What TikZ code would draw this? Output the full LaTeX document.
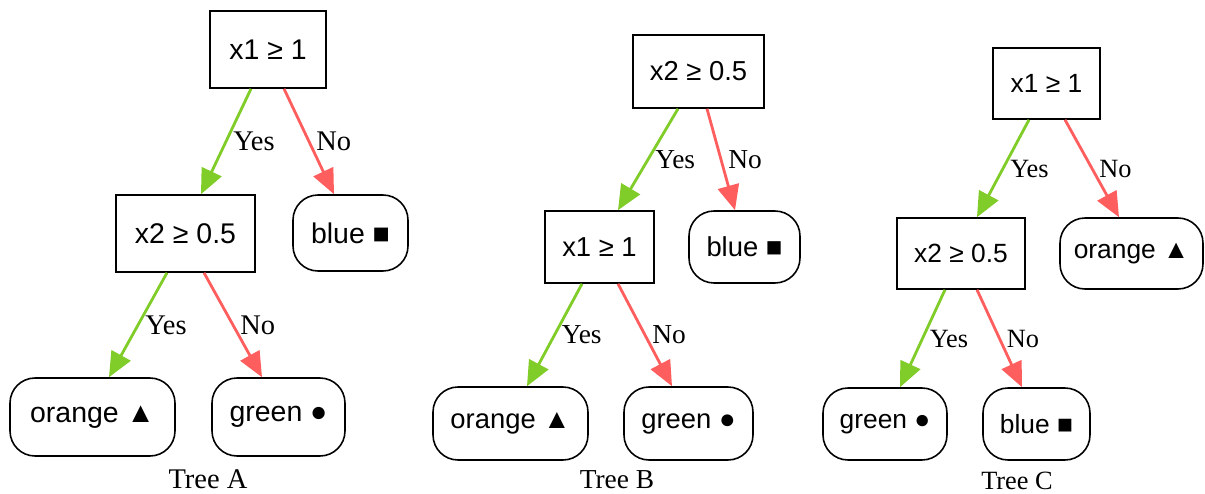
\documentclass[tikz,border=0pt]{standalone}
\usepackage{fontspec}
\setmainfont{Liberation Serif}
\setsansfont{Liberation Sans}
\usetikzlibrary{arrows.meta}

\definecolor{yesgreen}{RGB}{128,204,40}
\definecolor{nored}{RGB}{255,94,94}

\newcommand{\tsz}{\fontsize{16.2}{19}\selectfont}

\tikzset{
  test/.style={draw, line width=0.9pt, font=\sffamily\tsz, inner sep=0pt},
  leaf/.style={test, rounded corners=0.5cm},
  yes/.style={yesgreen, line width=1.6pt, -{Triangle[length=0.5cm, width=0.43cm]}},
  no/.style={yes, nored},
  lbl/.style={right, text=black, font=\rmfamily\tsz},
}

\begin{document}
\begin{tikzpicture}[x=0.02cm, y=-0.02cm]
\useasboundingbox (0,0) rectangle (1205,494);

% Tree A
\node[test, minimum width=2.32cm, minimum height=1.54cm] (aRoot) at (268,49.5) {x1 ≥ 1};
\node[test, minimum width=2.78cm, minimum height=1.54cm] (aX2) at (185.5,233.5) {x2 ≥ 0.5};
\node[leaf, minimum width=2.30cm, minimum height=1.52cm] (aBlue) at (350.5,233) {blue ■};
\node[leaf, minimum width=3.30cm, minimum height=1.56cm] (aOrange) at (92.5,417) {orange ▲};
\node[leaf, minimum width=2.66cm, minimum height=1.56cm] (aGreen) at (278.5,417) {green ●};
\node[font=\rmfamily\tsz] (aName) at (208,479) {Tree A};

\draw[yes] ([xshift=-0.34cm]aRoot.south) -- node[lbl] {Yes} ([xshift=0.31cm]aX2.north);
\draw[no] ([xshift=0.32cm]aRoot.south) -- node[lbl] {No} ([xshift=-0.33cm]aBlue.north);
\draw[yes] ([xshift=-0.37cm]aX2.south) -- node[lbl] {Yes} ([xshift=0.33cm]aOrange.north);
\draw[no] ([xshift=0.37cm]aX2.south) -- node[lbl] {No} ([xshift=-0.33cm]aGreen.north);

% Tree B
\renewcommand{\tsz}{\fontsize{15.6}{18}\selectfont}
\node[test, minimum width=2.62cm, minimum height=1.46cm] (bRoot) at (698.5,71.5) {x2 ≥ 0.5};
\node[test, minimum width=2.18cm, minimum height=1.44cm] (bX1) at (599.5,247) {x1 ≥ 1};
\node[leaf, minimum width=2.22cm, minimum height=1.44cm] (bBlue) at (744.5,247) {blue ■};
\node[leaf, minimum width=3.10cm, minimum height=1.46cm] (bOrange) at (510.5,423.5) {orange ▲};
\node[leaf, minimum width=2.58cm, minimum height=1.46cm] (bGreen) at (688.5,423.5) {green ●};
\node[font=\rmfamily\tsz] (bName) at (617,480) {Tree B};

\draw[yes] ([xshift=-0.41cm]bRoot.south) -- node[lbl] {Yes} ([xshift=0.37cm]bX1.north);
\draw[no] ([xshift=0.17cm]bRoot.south) -- node[lbl] {No} ([xshift=-0.19cm]bBlue.north);
\draw[yes] ([xshift=-0.35cm]bX1.south) -- node[lbl] {Yes} ([xshift=0.33cm]bOrange.north);
\draw[no] ([xshift=0.37cm]bX1.south) -- node[lbl] {No} ([xshift=-0.33cm]bGreen.north);

% Tree C
\renewcommand{\tsz}{\fontsize{15}{18}\selectfont}
\node[test, minimum width=2.14cm, minimum height=1.42cm] (cRoot) at (1046.5,83.5) {x1 ≥ 1};
\node[test, minimum width=2.56cm, minimum height=1.42cm] (cX2) at (961,253.5) {x2 ≥ 0.5};
\node[leaf, minimum width=2.86cm, minimum height=1.42cm] (cOrange) at (1131.5,253.5) {orange ▲};
\node[leaf, minimum width=2.48cm, minimum height=1.44cm] (cGreen) at (885,424) {green ●};
\node[leaf, minimum width=2.14cm, minimum height=1.44cm] (cBlue) at (1036.5,424) {blue ■};
\node[font=\rmfamily\tsz] (cName) at (1017,481) {Tree C};

\draw[yes] ([xshift=-0.35cm]cRoot.south) -- node[lbl] {Yes} ([xshift=0.32cm]cX2.north);
\draw[no] ([xshift=0.37cm]cRoot.south) -- node[lbl] {No} ([xshift=-0.25cm]cOrange.north);
\draw[yes] ([xshift=-0.32cm]cX2.south) -- node[lbl] {Yes} ([xshift=0.30cm]cGreen.north);
\draw[no] ([xshift=0.32cm]cX2.south) -- node[lbl] {No} ([xshift=-0.29cm]cBlue.north);

\end{tikzpicture}
\end{document}
